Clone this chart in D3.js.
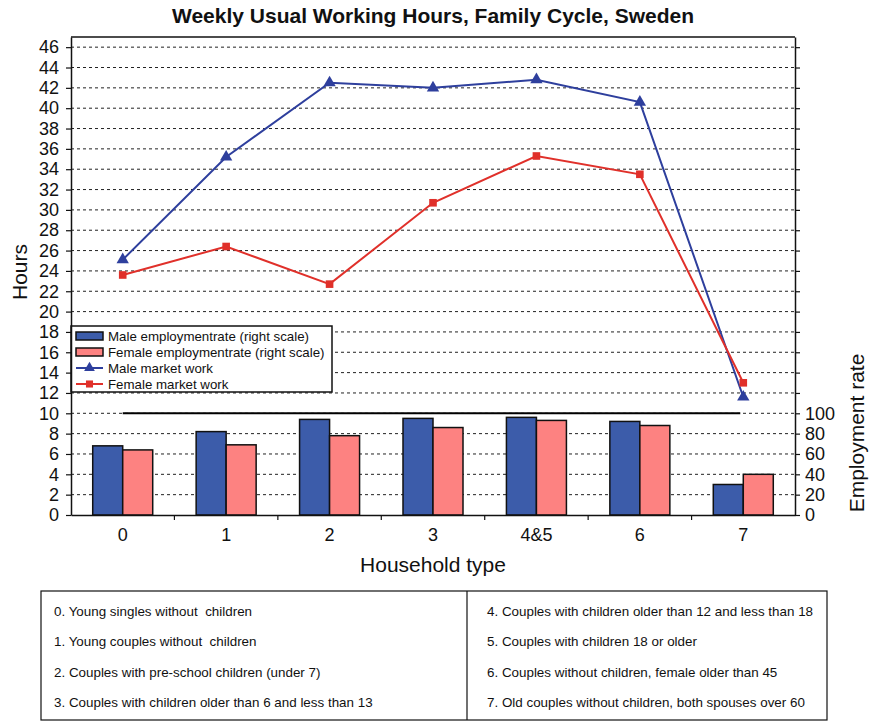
<!DOCTYPE html>
<html>
<head>
<meta charset="utf-8">
<script src="https://cdn.jsdelivr.net/npm/d3@7"></script>
<style>
  html, body { margin: 0; padding: 0; background: #fff; }
  svg { display: block; font-family: "Liberation Sans", Arial, Helvetica, sans-serif; }
  .note { white-space: pre; }
</style>
</head>
<body>
<svg id="chart" width="870" height="722"></svg>
<script>
// Household types along the family cycle
const categories = ["0", "1", "2", "3", "4&5", "6", "7"];

// Employment rates, % (right scale)
const maleRate   = [68, 82, 94, 95, 96, 92, 30];
const femaleRate = [64, 69, 78, 86, 93, 88, 40];

// Weekly usual market working hours (left scale)
const maleHours   = [25.1, 35.2, 42.5, 42.0, 42.8, 40.6, 11.6];
const femaleHours = [23.6, 26.4, 22.7, 30.7, 35.3, 33.5, 13.0];

// Full-employment reference level, %
const fullRate = 100;

// Tick values
const hourTicks = d3.range(0, 47, 2);
const rateTicks = d3.range(0, 461, 20);
const rateLabels = [0, 20, 40, 60, 80, 100];

// Household type descriptions
const notesLeft = [
  "0. Young singles without  children",
  "1. Young couples without  children",
  "2. Couples with pre-school children (under 7)",
  "3. Couples with children older than 6 and less than 13"
];
const notesRight = [
  "4. Couples with children older than 12 and less than 18",
  "5. Couples with children 18 or older",
  "6. Couples without children, female older than 45",
  "7. Old couples without children, both spouses over 60"
];

const colors = {
  maleBar: "#3c5caa",
  femaleBar: "#fd8281",
  maleLine: "#2e3f9d",
  femaleLine: "#e0302a"
};

const svg = d3.select("#chart");
const plot = { left: 71, right: 795, top: 37, bottom: 515 };

const x = d3.scaleBand().domain(categories).range([plot.left, plot.right]);
const bw = x.bandwidth();
const xSub = d3.scaleBand().domain(["male", "female"]).range([bw / 2 - 30, bw / 2 + 30]);
const yL = d3.scaleLinear().domain([0, 47]).range([plot.bottom, plot.top]);
const yR = d3.scaleLinear().domain([0, 470]).range([plot.bottom, plot.top]);
const cx = c => x(c) + bw / 2;

// Title
svg.append("text")
  .attr("x", (plot.left + plot.right) / 2).attr("y", 23)
  .attr("text-anchor", "middle")
  .attr("font-size", 21).attr("font-weight", "bold").attr("fill", "#111")
  .text("Weekly Usual Working Hours, Family Cycle, Sweden");

// Dashed horizontal gridlines
svg.append("g").selectAll("line")
  .data(hourTicks.filter(d => d > 0))
  .join("line")
  .attr("x1", plot.left).attr("x2", plot.right)
  .attr("y1", d => yL(d)).attr("y2", d => yL(d))
  .attr("stroke", "#222").attr("stroke-width", 1)
  .attr("stroke-dasharray", "3,3");

// Employment-rate bars
const barData = [];
categories.forEach((c, i) => {
  barData.push({ c, key: "male", v: maleRate[i] });
  barData.push({ c, key: "female", v: femaleRate[i] });
});
svg.append("g").selectAll("rect")
  .data(barData)
  .join("rect")
  .attr("x", d => x(d.c) + xSub(d.key))
  .attr("width", xSub.bandwidth())
  .attr("y", d => yR(d.v))
  .attr("height", d => yR(0) - yR(d.v))
  .attr("fill", d => d.key === "male" ? colors.maleBar : colors.femaleBar)
  .attr("stroke", "#111").attr("stroke-width", 1.5);

// 100 % reference line
svg.append("line")
  .attr("x1", cx(categories[0])).attr("x2", cx(categories[categories.length - 1]) - 3)
  .attr("y1", yR(fullRate)).attr("y2", yR(fullRate))
  .attr("stroke", "#000").attr("stroke-width", 2);

// Hours lines with markers
const line = d3.line().x((d, i) => cx(categories[i])).y(d => yL(d));
function drawSeries(values, color, shape) {
  svg.append("path")
    .attr("d", line(values))
    .attr("fill", "none").attr("stroke", color).attr("stroke-width", 2);
  svg.append("g").selectAll("path")
    .data(values)
    .join("path")
    .attr("transform", (d, i) => `translate(${cx(categories[i])},${yL(d)})`)
    .attr("d", d3.symbol().type(shape).size(shape === d3.symbolTriangle ? 66 : 58))
    .attr("fill", color);
}
drawSeries(maleHours, colors.maleLine, d3.symbolTriangle);
drawSeries(femaleHours, colors.femaleLine, d3.symbolSquare);

// Legend
const legend = svg.append("g");
legend.append("rect")
  .attr("x", plot.left).attr("y", 326).attr("width", 261).attr("height", 66)
  .attr("fill", "#fff").attr("stroke", "#111").attr("stroke-width", 1.5);
const legendItems = [
  { label: "Male employmentrate (right scale)", type: "bar", color: colors.maleBar },
  { label: "Female employmentrate (right scale)", type: "bar", color: colors.femaleBar },
  { label: "Male market work", type: "line", color: colors.maleLine, shape: d3.symbolTriangle },
  { label: "Female market work", type: "line", color: colors.femaleLine, shape: d3.symbolSquare }
];
legendItems.forEach((it, i) => {
  const cy = 336 + i * 16;
  if (it.type === "bar") {
    legend.append("rect")
      .attr("x", 76).attr("y", cy - 4).attr("width", 27).attr("height", 8)
      .attr("fill", it.color).attr("stroke", "#111").attr("stroke-width", 1.5);
  } else {
    legend.append("line")
      .attr("x1", 76).attr("x2", 103).attr("y1", cy).attr("y2", cy)
      .attr("stroke", it.color).attr("stroke-width", 2);
    legend.append("path")
      .attr("transform", `translate(89.5,${cy})`)
      .attr("d", d3.symbol().type(it.shape).size(50))
      .attr("fill", it.color);
  }
  legend.append("text")
    .attr("x", 108).attr("y", cy + 4.7)
    .attr("font-size", 13.3).attr("fill", "#111")
    .text(it.label);
});

// Axes
const styleAxis = g => {
  g.select(".domain").attr("stroke", "#111").attr("stroke-width", 1.5);
  g.selectAll(".tick line").attr("stroke", "#111").attr("stroke-width", 1.2);
  g.selectAll(".tick text").attr("fill", "#111").attr("font-size", 18)
    .attr("font-family", "Liberation Sans, Arial, sans-serif");
};
svg.append("g")
  .attr("transform", `translate(${plot.left},0)`)
  .call(d3.axisLeft(yL).tickValues(hourTicks).tickSize(5).tickSizeOuter(0).tickPadding(7))
  .call(styleAxis);
svg.append("g")
  .attr("transform", `translate(${plot.right},0)`)
  .call(d3.axisRight(yR).tickValues(rateTicks).tickSize(5).tickSizeOuter(0).tickPadding(5)
    .tickFormat(d => rateLabels.includes(d) ? d : ""))
  .call(styleAxis);
const xAxis = svg.append("g")
  .attr("transform", `translate(0,${plot.bottom})`)
  .call(d3.axisBottom(x).tickSize(0).tickPadding(13))
  .call(styleAxis);
// Tick marks on the category boundaries
xAxis.selectAll(".boundary")
  .data(categories.slice(1))
  .join("line")
  .attr("x1", d => x(d)).attr("x2", d => x(d))
  .attr("y1", 0).attr("y2", 5)
  .attr("stroke", "#111").attr("stroke-width", 1.2);

// Top frame line
svg.append("line")
  .attr("x1", plot.left).attr("x2", plot.right)
  .attr("y1", plot.top).attr("y2", plot.top)
  .attr("stroke", "#111").attr("stroke-width", 1.5);

// Axis titles
svg.append("text")
  .attr("transform", "translate(27,272) rotate(-90)")
  .attr("text-anchor", "middle").attr("font-size", 21).attr("fill", "#111")
  .text("Hours");
svg.append("text")
  .attr("transform", "translate(864,433) rotate(-90)")
  .attr("text-anchor", "middle").attr("font-size", 21).attr("fill", "#111")
  .text("Employment rate");
svg.append("text")
  .attr("x", (plot.left + plot.right) / 2).attr("y", 572)
  .attr("text-anchor", "middle").attr("font-size", 21).attr("fill", "#111")
  .text("Household type");

// Household type key
const table = svg.append("g");
table.append("rect")
  .attr("x", 41).attr("y", 591).attr("width", 786).attr("height", 129)
  .attr("fill", "none").attr("stroke", "#111").attr("stroke-width", 1.2);
table.append("line")
  .attr("x1", 467).attr("x2", 467).attr("y1", 591).attr("y2", 720)
  .attr("stroke", "#111").attr("stroke-width", 1.2);
const rowY = i => 616 + i * 30.3;
table.selectAll(".nl").data(notesLeft).join("text")
  .attr("class", "note").attr("xml:space", "preserve")
  .attr("x", 54).attr("y", (d, i) => rowY(i))
  .attr("font-size", 13.4).attr("fill", "#111").text(d => d);
table.selectAll(".nr").data(notesRight).join("text")
  .attr("class", "note").attr("xml:space", "preserve")
  .attr("x", 487).attr("y", (d, i) => rowY(i))
  .attr("font-size", 13.4).attr("fill", "#111").text(d => d);
</script>
</body>
</html>
